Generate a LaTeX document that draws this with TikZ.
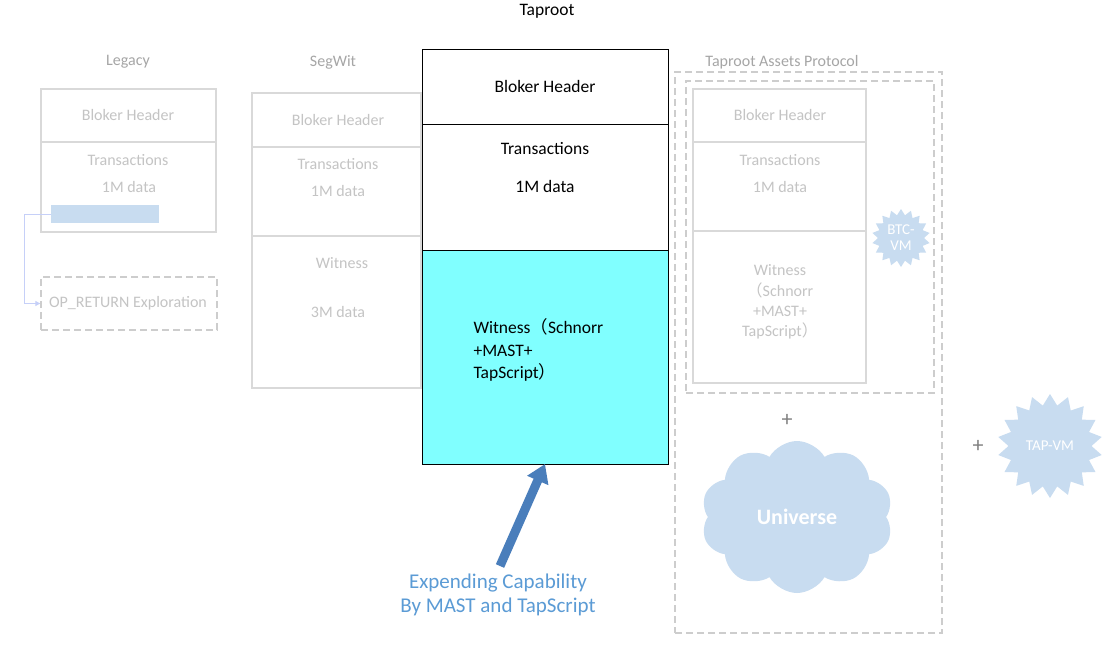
\documentclass[tikz,border=0pt]{standalone}
\usepackage{fontspec}
\setmainfont{Carlito}
\newfontfamily\cjk{Noto Sans CJK SC}
\usetikzlibrary{arrows.meta,shapes.symbols}
\definecolor{fadeline}{HTML}{D9D9D9}
\definecolor{fadetext}{HTML}{C4C4C4}
\definecolor{titlegray}{HTML}{A6A6A6}
\definecolor{dashgray}{HTML}{CDCDCD}
\definecolor{lblue}{HTML}{C8DCF0}
\definecolor{witcyan}{HTML}{80FFFF}
\definecolor{arrowblue}{HTML}{4A7EBB}
\definecolor{capblue}{HTML}{5B9BD5}
\tikzset{
	fadebox/.style={draw=fadeline, line width=1.2pt, inner sep=0pt},
	mainbox/.style={draw=black, line width=0.9pt, inner sep=0pt},
	dashbox/.style={draw=dashgray, line width=1.4pt, dash pattern=on 7pt off 4pt, inner sep=0pt},
	fadelbl/.style={text=fadetext, font=\fontsize{16}{19}\selectfont},
	mainlbl/.style={text=black, font=\fontsize{17.5}{21}\selectfont},
	ttl/.style={text=titlegray, font=\fontsize{16}{19}\selectfont},
	plus/.style={text=gray, font=\fontsize{22}{22}\selectfont},
	burst/.style={starburst, starburst points=18, starburst point height=6pt, random starburst=0, fill=lblue, draw=none, text=white, align=center, inner sep=0pt, font=\fontsize{15}{16}\selectfont}
}
\begin{document}
\begin{tikzpicture}[x=1pt, y=-1pt]
	\useasboundingbox[fill=white] (0,0) rectangle (1120,656);
	\node[ttl] (lgT) at (128,62) {Legacy};
	\node[fadebox, minimum width=175pt, minimum height=53pt] (lgHead) at (128.5,115.5) {};
	\node[fadebox, minimum width=175pt, minimum height=90pt] (lgTx) at (128.5,187) {};
	\node[fadelbl] (lgHeadL) at (128,115) {Bloker Header};
	\node[fadelbl] (lgTxL) at (128,160) {Transactions};
	\node[fadelbl] (lgTxD) at (129,187) {1M data};
	\node[fill=lblue, minimum width=108pt, minimum height=18pt, inner sep=0pt] (lgBar) at (105,214) {};
	\node[dashbox, minimum width=176pt, minimum height=53pt] (opBox) at (129,303.5) {};
	\node[fadelbl] (opL) at (128,303) {OP\_RETURN Exploration};
	\draw[draw=lblue!80!blue!60, line width=1pt, -{Triangle[length=5pt,width=5pt]}] (lgBar.west) -- ++(-26,0) |- (opBox.west);
	\node[ttl] (swT) at (333,62) {SegWit};
	\node[fadebox, minimum width=169pt, minimum height=54pt] (swHead) at (336.5,120) {};
	\node[fadebox, minimum width=169pt, minimum height=89pt] (swTx) at (336.5,191.5) {};
	\node[fadebox, minimum width=169pt, minimum height=152pt] (swWit) at (336.5,312) {};
	\node[fadelbl] (swHeadL) at (338,120) {Bloker Header};
	\node[fadelbl] (swTxL) at (338,164) {Transactions};
	\node[fadelbl] (swTxD) at (338,191) {1M data};
	\node[fadelbl] (swWitL) at (342,263) {Witness};
	\node[fadelbl] (swWitD) at (338,312) {3M data};
	\node[text=black, font=\fontsize{17.5}{20}\selectfont] (tpT) at (547,11) {Taproot};
	\node[mainbox, fill=white, minimum width=246pt, minimum height=75pt] (tpHead) at (545,86.5) {};
	\node[mainbox, fill=white, minimum width=246pt, minimum height=126pt] (tpTx) at (545,187) {};
	\node[mainbox, fill=witcyan, minimum width=246pt, minimum height=214pt] (tpWit) at (545,357) {};
	\node[mainlbl] (tpHeadL) at (545,86) {Bloker Header};
	\node[mainlbl] (tpTxL) at (545,149) {Transactions};
	\node[mainlbl] (tpTxD) at (545,186) {1M data};
	\node[mainlbl, align=left, anchor=west, font=\fontsize{17.5}{22.5}\selectfont] (tpWitL) at (470,350) {Witness{\cjk （}Schnorr\\+MAST+\\TapScript{\cjk ）}};
	\node[ttl] (tapT) at (782,62) {Taproot Assets Protocol};
	\node[dashbox, minimum width=267pt, minimum height=561pt] (tapOut) at (808.5,352.5) {};
	\node[dashbox, minimum width=248pt, minimum height=312pt] (tapIn) at (810,237) {};
	\node[fadebox, minimum width=173pt, minimum height=53pt] (tapHead) at (779.5,115.5) {};
	\node[fadebox, minimum width=173pt, minimum height=89pt] (tapTx) at (779.5,186.5) {};
	\node[fadebox, minimum width=173pt, minimum height=152pt] (tapWit) at (779.5,307) {};
	\node[fadelbl] (tapHeadL) at (780,115) {Bloker Header};
	\node[fadelbl] (tapTxL) at (780,160) {Transactions};
	\node[fadelbl] (tapTxD) at (780,187) {1M data};
	\node[fadelbl, align=center, font=\fontsize{16}{20.3}\selectfont] (tapWitL) at (780,302) {Witness\\{\cjk （}Schnorr\\+MAST+\\TapScript{\cjk ）}};
	\node[burst, minimum width=58pt, minimum height=58pt] (btcVm) at (901,238) {BTC-\\VM};
	\node[plus] (plusA) at (787,420) {+};
	\node[cloud, cloud puffs=10, cloud puff arc=120, fill=lblue, draw=none, minimum width=192pt, minimum height=152pt, text=white, font=\bfseries\fontsize{22}{26}\selectfont] (uni) at (797,517) {Universe};
	\node[plus] (plusB) at (978,446) {+};
	\node[burst, starburst point height=11pt, minimum width=105pt, minimum height=104pt] (tapVm) at (1050,446) {TAP-VM};
	\node[text=capblue, align=center, font=\fontsize{21}{24}\selectfont] (cap) at (498,595) {Expending Capability\\By MAST and TapScript};
	\coordinate (tip) at (545,464);
	\draw[arrowblue, line width=9pt, -{Triangle[length=18pt,width=22pt]}] (500,566) -- (tip);
\end{tikzpicture}
\end{document}
